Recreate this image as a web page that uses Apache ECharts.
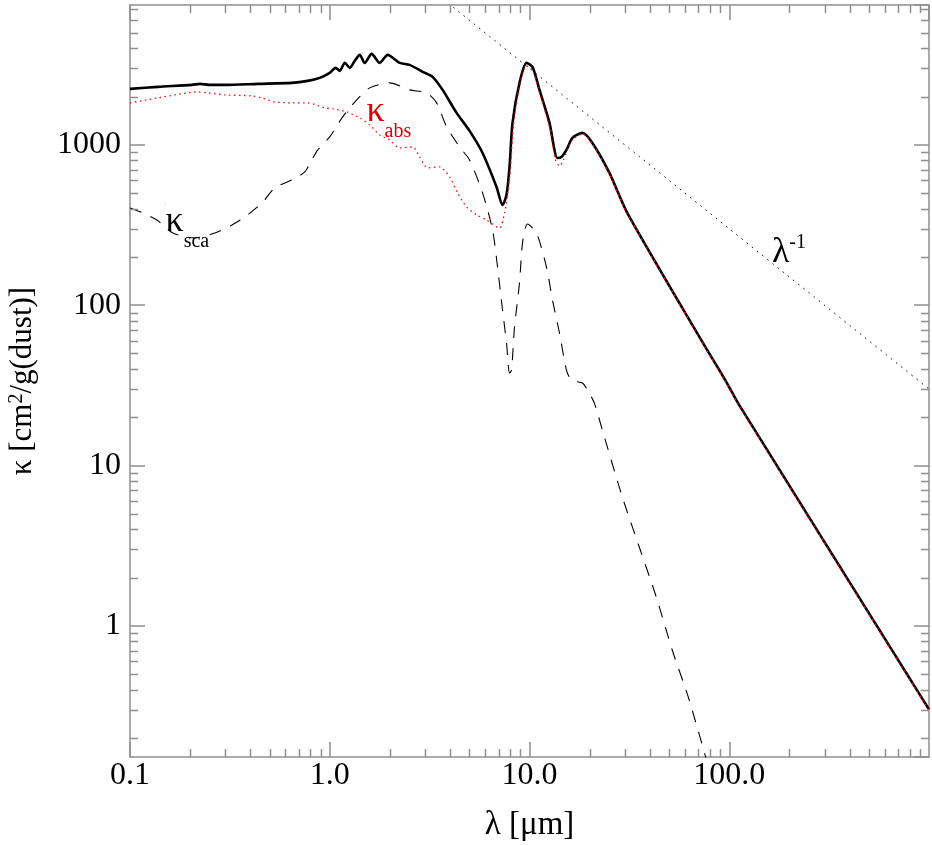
<!DOCTYPE html>
<html><head><meta charset="utf-8">
<script src="https://cdn.jsdelivr.net/npm/echarts@6/dist/echarts.min.js"></script>
<style>html,body{margin:0;padding:0;background:#fff}#c{width:932px;height:845px}</style>
</head><body><div id="c"></div>
<script>
// wavelength [um], opacity [cm^2/g]
const extData = [[0.1,2237],[0.138,2302],[0.204,2369],[0.224,2404],[0.25,2370],[0.299,2369],[0.437,2404],[0.646,2438],[0.776,2508],[0.891,2620],[1.0,2815],[1.072,3024],[1.122,2897],[1.189,3249],[1.259,3024],[1.334,3344],[1.413,3646],[1.496,3249],[1.622,3698],[1.778,3249],[1.95,3646],[2.239,3249],[2.512,3158],[2.917,2856],[3.273,2658],[3.673,2204],[4.315,1584],[5.012,1223],[5.821,891],[6.839,547],[7.328,422],[7.674,488],[7.943,729],[8.222,1372],[8.913,2438],[9.661,3249],[10.35,3068],[11.22,2204],[12.59,1372],[13.8,829],[14.45,841],[15.31,931],[16.41,1106],[18.41,1188],[20.65,1029],[25.12,669],[30.9,376],[72.44,60.6],[95.5,34.1],[112.2,23.8],[1000,0.3015]];
const absData = [[0.1,1829],[0.138,1965],[0.168,2052],[0.216,2142],[0.245,2111],[0.299,2052],[0.407,2022],[0.457,1965],[0.531,1855],[0.646,1829],[0.776,1829],[0.944,1702],[1.035,1678],[1.216,1607],[1.413,1474],[1.585,1333],[1.778,1154],[1.995,1074],[2.239,958],[2.6,971],[2.818,841],[3.09,719],[3.548,729],[3.981,631],[4.365,502],[4.842,410],[5.433,366],[6.095,340],[7.079,303],[7.499,376],[7.762,488],[8.035,719],[8.318,1333],[8.913,2335],[9.661,3113],[10.35,2939],[11.22,2111],[12.59,1295],[13.49,806],[14.13,739],[14.79,806],[15.31,904],[16.41,1074],[18.41,1171],[20.65,1014],[25.12,659],[30.9,371],[72.44,59.8],[95.5,33.6],[112.2,23.5],[1000,0.297]];
const scaData = [[0.1,404],[0.1161,376],[0.1365,340],[0.164,282],[0.211,263],[0.266,282],[0.324,317],[0.376,355],[0.457,434],[0.531,539],[0.646,605],[0.75,678],[0.813,806],[0.871,931],[1.0,1122],[1.161,1496],[1.365,1910],[1.585,2269],[1.995,2438],[2.512,2204],[3.055,2111],[3.428,1829],[3.846,1295],[4.467,971],[5.012,806],[5.821,502],[6.531,295],[6.918,173],[7.328,93.3],[7.674,58.1],[7.943,37.7],[8.128,39.4],[8.414,73.1],[8.913,138],[9.226,244],[9.772,321],[10.84,282],[12.16,173],[13.03,108],[14.13,67.1],[15.31,39.4],[16.22,34.1],[18.41,32.7],[19.5,29.6],[21.13,24.5],[23.17,16.6],[29.17,6.35],[35.48,3.09],[43.15,1.508],[51.88,0.704],[63.1,0.343],[89.13,0.0759]];
const lambdaInvData = [[1,30000],[1000,30]];

const xRange = [0.1, 1000];
const yRange = [0.152, 7460];
const xTickValues = [0.1, 1, 10, 100];
const xTickLabels = ['0.1', '1.0', '10.0', '100.0'];
const yTickValues = [1, 10, 100, 1000];
const yTickLabels = ['1', '10', '100', '1000'];
const xMinorTicks = [0.2,0.3,0.4,0.5,0.6,0.7,0.8,0.9,2,3,4,5,6,7,8,9,20,30,40,50,60,70,80,90,200,300,400,500,600,700,800,900];
const yMinorTicks = [0.2,0.3,0.4,0.5,0.6,0.7,0.8,0.9,2,3,4,5,6,7,8,9,20,30,40,50,60,70,80,90,200,300,400,500,600,700,800,900,2000,3000,4000,5000,6000,7000];

const annotationPoints = [[0.151, 430], [1.531, 2090], [164, 283]];
const annotationTexts = ['{k|κ}{s|sca}', '{k|κ}{s|abs}', '{l|λ}{p|-1}'];
const annotationColors = ['#000000', '#dd0000', '#000000'];

const FONT = 'Liberation Serif';
const AXIS_COLOR = '#8f8f8f';

function lookup(v, vals, labels) {
  for (let i = 0; i < vals.length; i++) {
    if (Math.abs(Math.log10(v) - Math.log10(vals[i])) < 1e-6) return labels[i];
  }
  return '';
}

const chart = echarts.init(document.getElementById('c'), null, {renderer: 'canvas'});

const axisLine = {show: true, onZero: false, lineStyle: {color: AXIS_COLOR, width: 1.5}};
const axisTick = {show: true, inside: true, length: 15, lineStyle: {color: AXIS_COLOR, width: 1.5}};

function richFor(color) {
  return {
    k: {fontFamily: FONT, fontSize: 36, lineHeight: 36, verticalAlign: 'top', color: color, opacity: 1},
    s: {fontFamily: FONT, fontSize: 20, lineHeight: 48, verticalAlign: 'bottom', color: color, opacity: 1},
    l: {fontFamily: FONT, fontSize: 36, lineHeight: 38, verticalAlign: 'bottom', color: color, opacity: 1},
    p: {fontFamily: FONT, fontSize: 20, lineHeight: 20, verticalAlign: 'top', color: color, opacity: 1}
  };
}

const annotationItems = annotationPoints.map((p, i) => ({
  value: p,
  itemStyle: {color: annotationColors[i], opacity: 1},
  label: {
    show: true, formatter: annotationTexts[i], position: [0, 0], align: 'left', verticalAlign: 'top',
    color: annotationColors[i], opacity: 1, textBorderWidth: 0,
    rich: richFor(annotationColors[i])
  }
}));

function minorTickRender(dir) {
  return function (params, api) {
    const cs = params.coordSys;
    const p = api.coord([api.value(0), api.value(1)]);
    const st = {stroke: AXIS_COLOR, lineWidth: 1.5};
    if (dir === 'x') {
      const x = Math.round(p[0]) + 0.5;
      return {type: 'group', children: [
        {type: 'line', shape: {x1: x, y1: cs.y + cs.height, x2: x, y2: cs.y + cs.height - 8}, style: st},
        {type: 'line', shape: {x1: x, y1: cs.y, x2: x, y2: cs.y + 8}, style: st}
      ]};
    } else {
      const y = Math.round(p[1]) + 0.5;
      return {type: 'group', children: [
        {type: 'line', shape: {x1: cs.x, y1: y, x2: cs.x + 8, y2: y}, style: st},
        {type: 'line', shape: {x1: cs.x + cs.width, y1: y, x2: cs.x + cs.width - 8, y2: y}, style: st}
      ]};
    }
  };
}

chart.setOption({
  animation: false,
  backgroundColor: '#ffffff',
  textStyle: {fontFamily: FONT},
  grid: {left: 130, right: 3, top: 5, bottom: 88, containLabel: false, outerBoundsMode: 'none'},
  xAxis: [
    {
      type: 'log', logBase: 10, min: xRange[0], max: xRange[1], position: 'bottom',
      axisLine: axisLine, axisTick: axisTick, splitLine: {show: false},
      axisLabel: {
        show: true, margin: 3, color: '#000', fontFamily: FONT, fontSize: 32,
        showMinLabel: true, showMaxLabel: false,
        formatter: v => lookup(v, xTickValues, xTickLabels)
      },
      name: 'λ [μm]', nameLocation: 'middle', nameGap: 52,
      nameTextStyle: {color: '#000', fontFamily: FONT, fontSize: 33}
    },
    {
      type: 'log', logBase: 10, min: xRange[0], max: xRange[1], position: 'top',
      axisLine: axisLine, axisTick: axisTick, splitLine: {show: false}, axisLabel: {show: false}
    }
  ],
  yAxis: [
    {
      type: 'log', logBase: 10, min: yRange[0], max: yRange[1], position: 'left',
      axisLine: axisLine, axisTick: axisTick, splitLine: {show: false},
      axisLabel: {
        show: true, margin: 9, color: '#000', fontFamily: FONT, fontSize: 32,
        showMinLabel: false, showMaxLabel: false,
        formatter: v => lookup(v, yTickValues, yTickLabels)
      },
      name: '{a|κ [cm}{b|2}{a|/g(dust)]}', nameLocation: 'middle', nameGap: 89,
      nameTextStyle: {
        color: '#000', fontFamily: FONT, fontSize: 31,
        rich: {
          a: {fontFamily: FONT, fontSize: 31, lineHeight: 34, verticalAlign: 'top', color: '#000'},
          b: {fontFamily: FONT, fontSize: 20, lineHeight: 14, verticalAlign: 'top', color: '#000'}
        }
      }
    },
    {
      type: 'log', logBase: 10, min: yRange[0], max: yRange[1], position: 'right',
      axisLine: axisLine, axisTick: axisTick, splitLine: {show: false}, axisLabel: {show: false}
    }
  ],
  series: [
    {
      name: 'lambda^-1', type: 'line', data: lambdaInvData, xAxisIndex: 0, yAxisIndex: 0,
      showSymbol: false, symbol: 'none', clip: true, z: 2,
      lineStyle: {color: '#111', width: 1, type: [1.6, 5]}
    },
    {
      name: 'kappa_sca', type: 'line', data: scaData, xAxisIndex: 0, yAxisIndex: 0,
      showSymbol: false, symbol: 'none', clip: true, smooth: 0.25, z: 3,
      lineStyle: {color: '#000', width: 1.1, type: [12, 10]}
    },
    {
      name: 'kappa_ext', type: 'line', data: extData, xAxisIndex: 0, yAxisIndex: 0,
      showSymbol: false, symbol: 'none', clip: true, smooth: 0.25, z: 4,
      lineStyle: {color: '#000', width: 2.6}
    },
    {
      name: 'kappa_abs', type: 'line', data: absData, xAxisIndex: 0, yAxisIndex: 0,
      showSymbol: false, symbol: 'none', clip: true, smooth: 0.25, z: 5,
      lineStyle: {color: '#ff1010', width: 1.3, type: [1.6, 3.4]}
    },
    {
      name: 'labels', type: 'scatter', data: annotationItems, xAxisIndex: 0, yAxisIndex: 0,
      symbolSize: 0.5, silent: true, z: 6
    },
    {
      name: 'xminor', type: 'custom', xAxisIndex: 0, yAxisIndex: 0, silent: true, clip: false, z: 7,
      data: xMinorTicks.map(v => [v, yRange[0]]), renderItem: minorTickRender('x')
    },
    {
      name: 'yminor', type: 'custom', xAxisIndex: 0, yAxisIndex: 0, silent: true, clip: false, z: 7,
      data: yMinorTicks.map(v => [xRange[0], v]), renderItem: minorTickRender('y')
    }
  ]
});
</script>
</body></html>
